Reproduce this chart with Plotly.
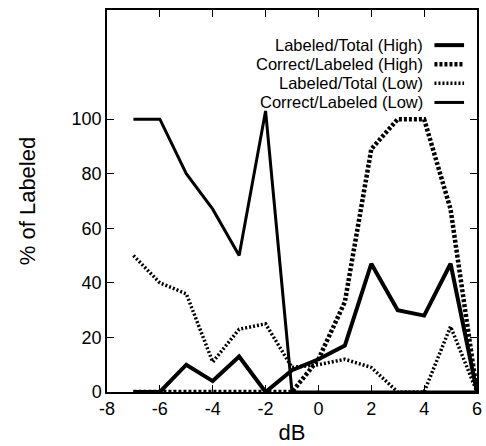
import plotly.graph_objects as go

db = [-7, -6, -5, -4, -3, -2, -1, 0, 1, 2, 3, 4, 5, 6]
labeled_total_high = [0, 0, 10, 4, 13, 0, 8, 12, 17, 47, 30, 28, 47, 0]
correct_labeled_high = [0, 0, 0, 0, 0, 0, 0, 12, 33, 89, 100, 100, 67, 0]
labeled_total_low = [50, 40, 36, 11, 23, 25, 9, 10, 12, 9, 0, 0, 24, 0]
correct_labeled_low = [100, 100, 80, 67, 50, 103, 0, 0, 0, 0, 0, 0, 0, 0]

x_ticks = [-8, -6, -4, -2, 0, 2, 4, 6]
x_tick_labels = ["-8", "-6", "-4", "-2", "0", "2", "4", "6"]
y_ticks = [0, 20, 40, 60, 80, 100]

names = ["Labeled/Total (High)", "Correct/Labeled (High)",
         "Labeled/Total (Low)", "Correct/Labeled (Low)"]
series = [labeled_total_high, correct_labeled_high, labeled_total_low, correct_labeled_low]
styles = [dict(width=4, dash="solid"), dict(width=4.5, dash="3px,2px"),
          dict(width=3.5, dash="2px,2px"), dict(width=3, dash="solid")]

fig = go.Figure()
for n, s, st in zip(names, series, styles):
    fig.add_trace(go.Scatter(x=db, y=s, mode="lines", name=n,
                             line=dict(color="black", **st), showlegend=False))

font = dict(family="Liberation Sans, Arial, sans-serif", size=18, color="black")
legend_font = dict(family="Liberation Sans, Arial, sans-serif", size=16.5, color="black")
# legend: right-aligned text with samples on the right
for i, (n, st) in enumerate(zip(names, styles)):
    yp = 0.908 - i * 0.05
    fig.add_annotation(x=0.858, y=yp, xref="paper", yref="paper", text=n,
                       showarrow=False, xanchor="right", yanchor="middle", font=legend_font,
                       borderpad=0)
    fig.add_shape(type="line", xref="paper", yref="paper", x0=0.885, x1=0.965,
                  y0=yp, y1=yp, line=dict(color="black", width=st["width"], dash=st["dash"]))

fig.update_layout(
    width=486, height=446,
    margin=dict(l=107, r=4, t=10, b=54),
    paper_bgcolor="white", plot_bgcolor="white",
    font=font,
    xaxis=dict(range=[-8, 6], tickvals=x_ticks, ticktext=x_tick_labels, ticks="inside",
               ticklen=7, tickcolor="black", mirror="ticks", showline=True, linecolor="black",
               linewidth=1.5, showgrid=False, zeroline=False, title=dict(text="dB", standoff=6),
               tickfont=font),
    yaxis=dict(range=[0, 140], tickvals=y_ticks, ticks="inside",
               ticklen=7, tickcolor="black", mirror="ticks", showline=True, linecolor="black",
               linewidth=1.5, showgrid=False, zeroline=False,
               title=dict(text="% of Labeled", standoff=30), tickfont=font),
)
fig.write_html("out.html")
